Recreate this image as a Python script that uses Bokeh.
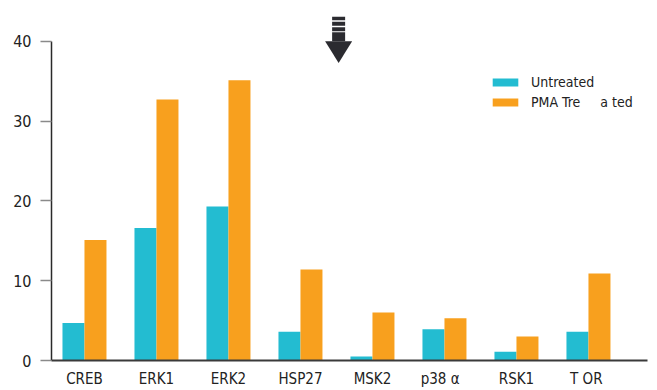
from bokeh.plotting import figure
from bokeh.models import (ColumnDataSource, Range1d, FixedTicker, Legend, LegendItem,
                          CustomJSTickFormatter)
from bokeh.transform import dodge
from bokeh.embed import file_html
from bokeh.resources import INLINE

categories = ["CREB", "ERK1", "ERK2", "HSP27", "MSK2", "p38   α", "RSK1", "T  OR"]
untreated = [4.7, 16.6, 19.3, 3.6, 0.5, 3.9, 1.1, 3.6]
pma_treated = [15.1, 32.7, 35.1, 11.4, 6.0, 5.3, 3.0, 10.9]
y_ticks = [0, 10, 20, 30, 40]
series_names = ["Untreated", "PMA Tre     a ted"]

TEAL = "#23BCD1"
ORANGE = "#F8A01E"
FONT = "'DejaVu Sans Condensed', 'DejaVu Sans', sans-serif"

src = ColumnDataSource(dict(x=list(range(len(categories))), u=untreated, p=pma_treated))

p = figure(width=650, height=390, output_backend="svg", toolbar_location=None,
           x_range=Range1d(-0.458, 7.82), y_range=Range1d(0, 43.1),
           min_border_left=51, min_border_right=3, min_border_top=16, min_border_bottom=28)
p.outline_line_color = None
p.xgrid.visible = False
p.ygrid.visible = False

bw = 22 / 72
r1 = p.vbar(x=dodge("x", -bw / 2, range=p.x_range), top="u", width=bw, source=src,
            color=TEAL, line_color=None)
r2 = p.vbar(x=dodge("x", bw / 2, range=p.x_range), top="p", width=bw, source=src,
            color=ORANGE, line_color=None)

# down arrow annotation (in data space near top)
ax = 3.53
stem_w = 13 / 72
ppu = 8.025
def yv(py):
    return (362 - py) / ppu
for top, bot in [(16, 20), (21.5, 25.5), (27, 31), (32, 41)]:
    p.quad(left=ax - stem_w / 2, right=ax + stem_w / 2, top=yv(top), bottom=yv(bot),
           color="#2b2b30", line_color=None)
p.patch(x=[ax - 13.5 / 72, ax + 13.5 / 72, ax], y=[yv(41), yv(41), yv(63)],
        color="#2b2b30", line_color=None)

# axes
xa = p.xaxis[0]
xa.ticker = FixedTicker(ticks=list(range(len(categories))))
xa.formatter = CustomJSTickFormatter(args=dict(labels=categories),
                                     code="return labels[Math.round(tick)] || '';")
xa.major_tick_line_color = None
xa.major_tick_out = 0
xa.major_tick_in = 0
xa.minor_tick_line_color = None
xa.minor_tick_out = 0
xa.axis_line_color = "#3a3a3a"
xa.axis_line_width = 2
xa.major_label_text_font = FONT
xa.major_label_text_font_size = "15px"
xa.major_label_text_color = "#222222"
xa.major_label_standoff = 9

ya = p.yaxis[0]
ya.ticker = FixedTicker(ticks=y_ticks)
ya.bounds = (0, 40)
ya.minor_tick_line_color = None
ya.major_tick_in = 0
ya.major_tick_out = 11
ya.major_tick_line_color = "#8a8a8a"
ya.major_tick_line_width = 1.5
ya.axis_line_color = "#2a2a2a"
ya.axis_line_width = 1.5
ya.major_label_text_font = FONT
ya.major_label_text_font_size = "16px"
ya.major_label_text_color = "#222222"
ya.major_label_standoff = 9

legend = Legend(items=[LegendItem(label=series_names[0], renderers=[r1]),
                       LegendItem(label=series_names[1], renderers=[r2])],
                location=(438, 250), orientation="vertical")
legend.glyph_width = 32
legend.glyph_height = 10
legend.label_height = 10
legend.spacing = 4
legend.padding = 0
legend.margin = 0
legend.border_line_color = None
legend.background_fill_alpha = 0
legend.label_standoff = 10
legend.label_text_font = FONT
legend.label_text_font_size = "14px"
legend.label_text_color = "#222222"
p.add_layout(legend, "center")

open("out.html", "w").write(file_html(p, INLINE))
